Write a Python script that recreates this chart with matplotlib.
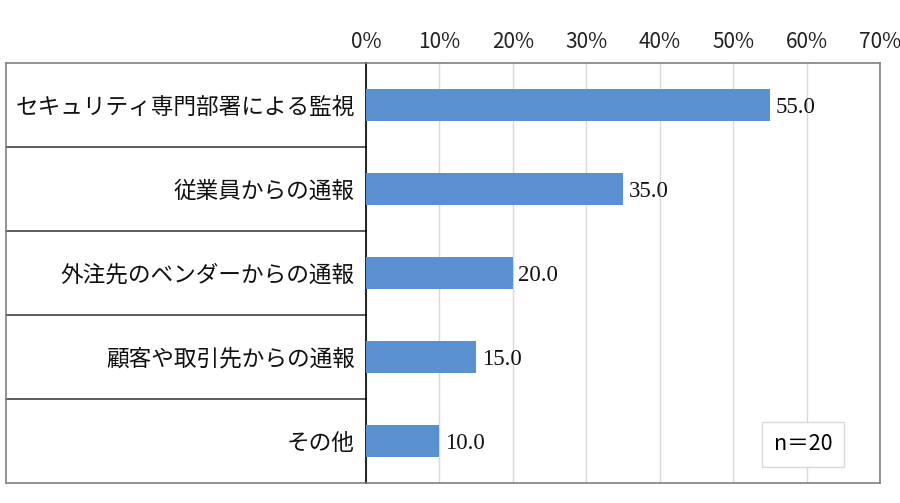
import matplotlib
matplotlib.use("Agg")
import matplotlib.pyplot as plt
from matplotlib.ticker import FuncFormatter
import matplotlib.transforms as mtransforms

plt.rcParams['font.family'] = ['Noto Sans CJK JP', 'DejaVu Sans']

categories = ["セキュリティ専門部署による監視", "従業員からの通報", "外注先のベンダーからの通報",
              "顧客や取引先からの通報", "その他"]
values = [55.0, 35.0, 20.0, 15.0, 10.0]
xticks = [0, 10, 20, 30, 40, 50, 60, 70]
note = "n＝20"

W, H = 900, 503
fig = plt.figure(figsize=(W / 100, H / 100), dpi=100)
L, R, T, B = 366, 880, 63, 483
ax = fig.add_axes([L / W, 1 - B / H, (R - L) / W, (B - T) / H])

ys = list(range(len(categories)))
ax.barh(ys, values, height=0.38, color="#5B90D0", zorder=3)
ax.set_xlim(0, 70)
ax.set_ylim(len(categories) - 0.5, -0.5)

ax.set_xticks(xticks)
ax.xaxis.set_major_formatter(FuncFormatter(lambda v, p: f"{v:.0f}%"))
ax.xaxis.tick_top()
ax.tick_params(axis="x", length=0, pad=7, labelsize=15, colors="#222222")
ax.grid(axis="x", color="#D9D9D9", linewidth=1, zorder=0)

ax.set_yticks(ys)
ax.set_yticklabels(categories, fontsize=16.3)
ax.tick_params(axis="y", length=0, pad=8, colors="#111111")

for s in ["top", "right", "bottom"]:
    ax.spines[s].set_color("#808080")
    ax.spines[s].set_linewidth(1.2)
ax.spines["left"].set_color("#000000")
ax.spines["left"].set_linewidth(1.2)

# table lines for the label column
xl = (6 - L) / (R - L)
trans = mtransforms.blended_transform_factory(ax.transAxes, ax.transData)
for k in range(1, len(categories)):
    ax.plot([xl, 0], [k - 0.5, k - 0.5], transform=trans, color="#404040",
            linewidth=1.2, clip_on=False)
ax.plot([xl, 0], [1, 1], transform=ax.transAxes, color="#808080", linewidth=1.2, clip_on=False)
ax.plot([xl, 0], [0, 0], transform=ax.transAxes, color="#808080", linewidth=1.2, clip_on=False)
ax.plot([xl, xl], [0, 1], transform=ax.transAxes, color="#808080", linewidth=1.2, clip_on=False)

for y, v in zip(ys, values):
    ax.annotate(f"{v:.1f}", xy=(v, y), xytext=(4, -2), textcoords="offset points",
                ha="left", va="center", fontsize=16.5, family="Liberation Serif", color="#111111")

ax.text(0.850, 0.092, note, transform=ax.transAxes, ha="center", va="center", fontsize=15.5,
        zorder=5, bbox=dict(boxstyle="square,pad=0.55", facecolor="white", edgecolor="#D9D9D9"))

fig.savefig("out.png", dpi=100)
